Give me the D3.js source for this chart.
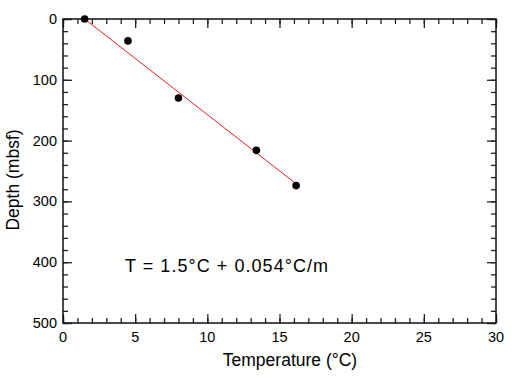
<!DOCTYPE html>
<html>
<head>
<meta charset="utf-8">
<script src="https://cdn.jsdelivr.net/npm/d3@7"></script>
<style>
  body { margin: 0; background: #fff; }
  text { font-family: "Liberation Sans", Arial, Helvetica, sans-serif; }
</style>
</head>
<body>
<div id="chart"></div>
<script>
// measured temperatures (°C) and depths (mbsf)
const temps = [1.5, 4.5, 8.0, 13.4, 16.15];
const depths = [0, 36, 130, 216, 274];

// fitted line end points
const fitTemps = [1.5, 16.2];
const fitDepths = [0, 272];

const xTicks = [0, 5, 10, 15, 20, 25, 30];
const yTicks = [0, 100, 200, 300, 400, 500];
const equation = "T = 1.5°C + 0.054°C/m";

const W = 515, H = 381;
const margin = { top: 19, right: 19, bottom: 58, left: 63 };
const width = W - margin.left - margin.right;
const height = H - margin.top - margin.bottom;

const svg = d3.select("#chart")
  .append("svg")
  .attr("width", W)
  .attr("height", H);

const g = svg.append("g")
  .attr("transform", `translate(${margin.left},${margin.top})`);

const x = d3.scaleLinear().domain([0, 30]).range([0, width]);
const y = d3.scaleLinear().domain([0, 500]).range([0, height]);

// inward ticks on all four sides
function ticks(axis, scale, values, size) {
  return axis(scale).tickValues(values).tickSizeInner(size).tickSizeOuter(0).tickFormat("");
}
const xMinor = d3.range(0, 31, 1);
const yMinor = d3.range(0, 501, 20);

const axes = [
  [d3.axisBottom, x, `translate(0,${height})`],
  [d3.axisTop, x, "translate(0,0)"],
  [d3.axisLeft, y, "translate(0,0)"],
  [d3.axisRight, y, `translate(${width},0)`]
];
axes.forEach(([fn, sc, tr]) => {
  const minors = sc === x ? xMinor : yMinor;
  const majors = sc === x ? xTicks : yTicks;
  g.append("g").attr("transform", tr).call(ticks(fn, sc, minors, -5));
  g.append("g").attr("transform", tr).call(ticks(fn, sc, majors, -9));
});
g.selectAll(".domain").remove();
g.selectAll(".tick line").attr("stroke", "#222").attr("stroke-width", 1.3);

// frame
g.append("rect")
  .attr("width", width)
  .attr("height", height)
  .attr("fill", "none")
  .attr("stroke", "#111")
  .attr("stroke-width", 1.5);

// tick labels
g.selectAll(".xlab")
  .data(xTicks)
  .enter()
  .append("text")
  .attr("x", d => x(d))
  .attr("y", height + 19)
  .attr("text-anchor", "middle")
  .style("font-size", "14.5px")
  .text(d => d);

g.selectAll(".ylab")
  .data(yTicks)
  .enter()
  .append("text")
  .attr("x", -6)
  .attr("y", d => y(d))
  .attr("dy", "0.35em")
  .attr("text-anchor", "end")
  .style("font-size", "14.5px")
  .text(d => d);

// axis titles
svg.append("text")
  .attr("x", 290)
  .attr("y", 366)
  .attr("text-anchor", "middle")
  .style("font-size", "17.5px")
  .text("Temperature (°C)");

svg.append("text")
  .attr("transform", "rotate(-90)")
  .attr("x", -180)
  .attr("y", 19)
  .attr("text-anchor", "middle")
  .style("font-size", "17.5px")
  .text("Depth (mbsf)");

// fit line
g.append("line")
  .attr("x1", x(fitTemps[0]))
  .attr("y1", y(fitDepths[0]))
  .attr("x2", x(fitTemps[1]))
  .attr("y2", y(fitDepths[1]))
  .attr("stroke", "#e8201c")
  .attr("stroke-width", 1);

// data points
g.selectAll("circle")
  .data(temps.map((t, i) => ({ t, d: depths[i] })))
  .enter()
  .append("circle")
  .attr("cx", d => x(d.t))
  .attr("cy", d => y(d.d))
  .attr("r", 3.8)
  .attr("fill", "#000");

// equation
svg.append("text")
  .attr("x", 125)
  .attr("y", 272)
  .attr("textLength", 203)
  .attr("lengthAdjust", "spacing")
  .style("font-size", "18px")
  .text(equation);
</script>
</body>
</html>
